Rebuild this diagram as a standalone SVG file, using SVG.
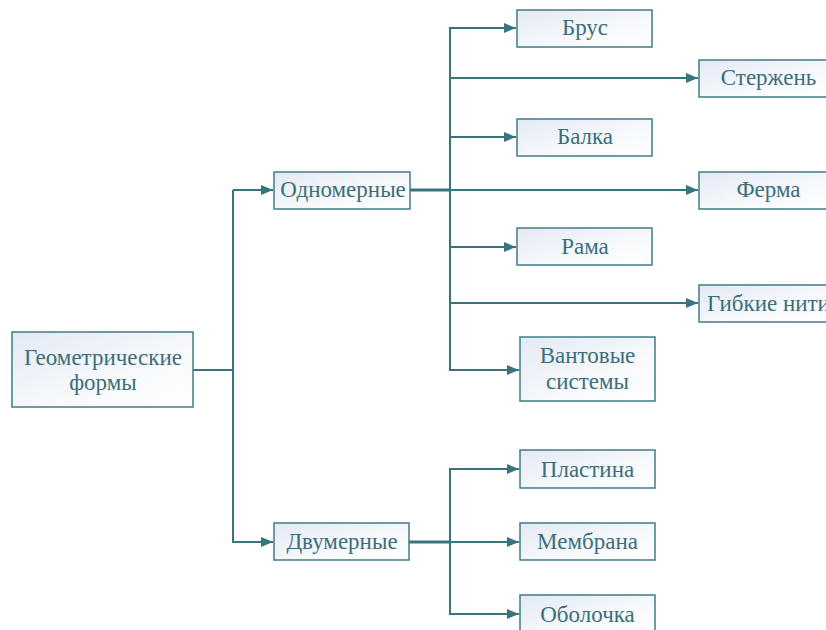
<svg xmlns="http://www.w3.org/2000/svg" width="826" height="630" viewBox="0 0 826 630">
<defs>
<linearGradient id="g" x1="0" y1="0" x2="1" y2="1">
<stop offset="0" stop-color="#e3e9f4"/>
<stop offset="0.6" stop-color="#f7f9fc"/>
<stop offset="1" stop-color="#ffffff"/>
</linearGradient>
<marker id="ah" markerWidth="12" markerHeight="10" refX="12" refY="5" orient="auto" markerUnits="userSpaceOnUse">
<path d="M0,0 L12,5 L0,10 Z" fill="#3a7380"/>
</marker>
</defs>
<rect width="826" height="630" fill="#ffffff"/>
<g id="connectors" fill="none" stroke="#3a7380" stroke-width="2">
<path d="M193,370 H233 V190"/>
<path d="M233,190 H273" marker-end="url(#ah)"/>
<path d="M233,370 V542 H273" marker-end="url(#ah)"/>
<path d="M410,190 H450" stroke-width="3"/>
<path d="M450,190 V28 H516" marker-end="url(#ah)"/>
<path d="M450,78 H698" marker-end="url(#ah)"/>
<path d="M450,137 H516" marker-end="url(#ah)"/>
<path d="M410,190 H698" marker-end="url(#ah)"/>
<path d="M450,190 V370 H519" marker-end="url(#ah)"/>
<path d="M450,247 H516" marker-end="url(#ah)"/>
<path d="M450,303 H698" marker-end="url(#ah)"/>
<path d="M409,542 H450" stroke-width="3"/>
<path d="M450,542 V469 H519" marker-end="url(#ah)"/>
<path d="M450,542 H519" marker-end="url(#ah)"/>
<path d="M450,542 V614 H519" marker-end="url(#ah)"/>
</g>
<g id="nodes" fill="url(#g)" stroke="#3f7c88" stroke-width="1.5">
<g id="n-root"><rect x="12" y="332" width="181" height="75"/><text style="font-family:'Times New Roman'" font-family="Times New Roman" font-size="23" fill="#3b6e78" stroke="none" text-anchor="middle" x="103" y="365">Геометрические</text><text style="font-family:'Times New Roman'" font-family="Times New Roman" font-size="23" fill="#3b6e78" stroke="none" text-anchor="middle" x="103" y="390">формы</text></g>
<g id="n-odn"><rect x="274" y="172" width="136" height="37"/><text style="font-family:'Times New Roman'" font-family="Times New Roman" font-size="23" fill="#3b6e78" stroke="none" text-anchor="middle" x="343" y="197">Одномерные</text></g>
<g id="n-dvu"><rect x="274" y="523" width="135" height="37"/><text style="font-family:'Times New Roman'" font-family="Times New Roman" font-size="23" fill="#3b6e78" stroke="none" text-anchor="middle" x="342" y="549">Двумерные</text></g>
<g id="n-brus"><rect x="517" y="10" width="135" height="37"/><text style="font-family:'Times New Roman'" font-family="Times New Roman" font-size="23" fill="#3b6e78" stroke="none" text-anchor="middle" x="585" y="35">Брус</text></g>
<g id="n-sterzhen"><rect x="699" y="60" width="135" height="37"/><text style="font-family:'Times New Roman'" font-family="Times New Roman" font-size="23" fill="#3b6e78" stroke="none" text-anchor="middle" x="768.5" y="85">Стержень</text></g>
<g id="n-balka"><rect x="517" y="119" width="135" height="37"/><text style="font-family:'Times New Roman'" font-family="Times New Roman" font-size="23" fill="#3b6e78" stroke="none" text-anchor="middle" x="585" y="144">Балка</text></g>
<g id="n-ferma"><rect x="699" y="172" width="135" height="37"/><text style="font-family:'Times New Roman'" font-family="Times New Roman" font-size="23" fill="#3b6e78" stroke="none" text-anchor="middle" x="768.5" y="197">Ферма</text></g>
<g id="n-rama"><rect x="517" y="228" width="135" height="37"/><text style="font-family:'Times New Roman'" font-family="Times New Roman" font-size="23" fill="#3b6e78" stroke="none" text-anchor="middle" x="585" y="254">Рама</text></g>
<g id="n-gibkie"><rect x="699" y="285" width="135" height="37"/><text style="font-family:'Times New Roman'" font-family="Times New Roman" font-size="23" fill="#3b6e78" stroke="none" text-anchor="middle" x="768.5" y="311">Гибкие нити</text></g>
<g id="n-vantovye"><rect x="520" y="337" width="135" height="64"/><text style="font-family:'Times New Roman'" font-family="Times New Roman" font-size="23" fill="#3b6e78" stroke="none" text-anchor="middle" x="587.5" y="363">Вантовые</text><text style="font-family:'Times New Roman'" font-family="Times New Roman" font-size="23" fill="#3b6e78" stroke="none" text-anchor="middle" x="587.5" y="389">системы</text></g>
<g id="n-plastina"><rect x="520" y="450" width="135" height="38"/><text style="font-family:'Times New Roman'" font-family="Times New Roman" font-size="23" fill="#3b6e78" stroke="none" text-anchor="middle" x="587.5" y="477">Пластина</text></g>
<g id="n-membrana"><rect x="520" y="523" width="135" height="37"/><text style="font-family:'Times New Roman'" font-family="Times New Roman" font-size="23" fill="#3b6e78" stroke="none" text-anchor="middle" x="587.5" y="549">Мембрана</text></g>
<g id="n-obolochka"><rect x="520" y="595" width="135" height="40"/><text style="font-family:'Times New Roman'" font-family="Times New Roman" font-size="23" fill="#3b6e78" stroke="none" text-anchor="middle" x="587.5" y="622">Оболочка</text></g>
</g>
</svg>
